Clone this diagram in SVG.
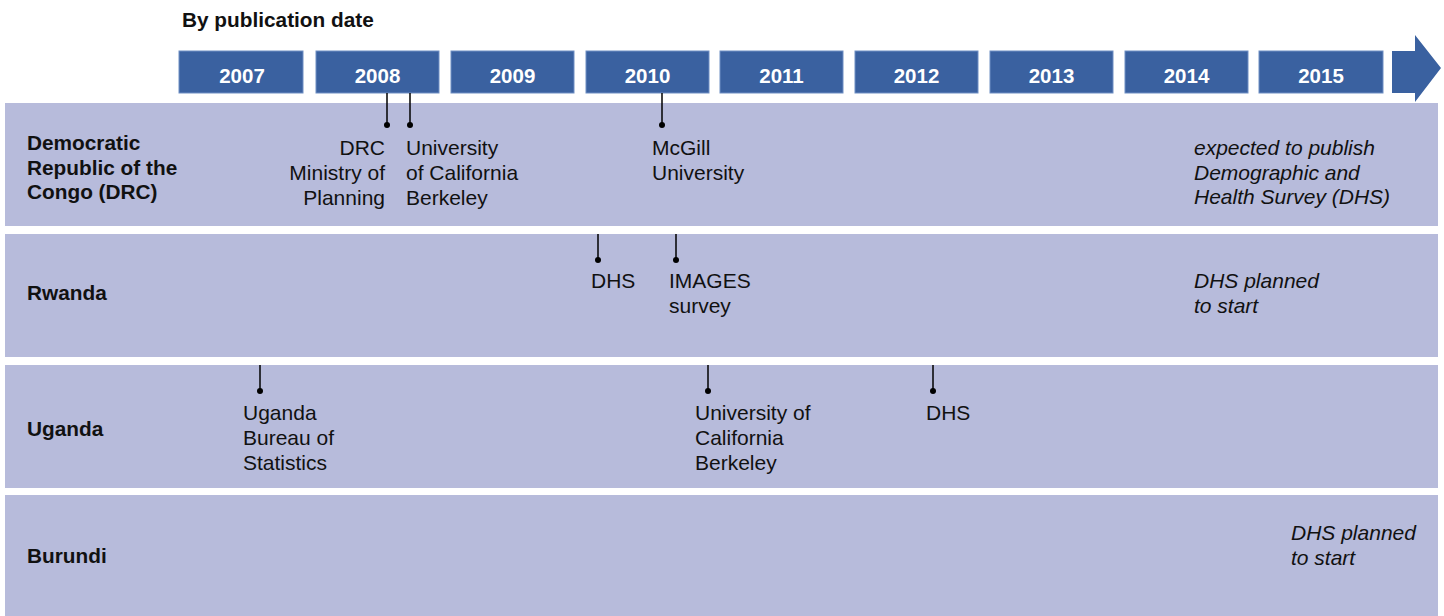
<svg xmlns="http://www.w3.org/2000/svg" width="1444" height="616" viewBox="0 0 1444 616">
  <defs>
    <style>
      .row { fill: #B7BBDB; }
      .yr { fill: #3A61A0; stroke: #6F8FC4; stroke-width: 1; }
      .yrt { font-family: "Liberation Sans", Arial, sans-serif; font-weight: bold; font-size: 20.5px; fill: #FFFFFF; text-anchor: middle; }
      .title { font-family: "Liberation Sans", Arial, sans-serif; font-weight: bold; font-size: 20.8px; fill: #111111; }
      .country { font-family: "Liberation Sans", Arial, sans-serif; font-weight: bold; font-size: 20.8px; fill: #111111; }
      .lbl { font-family: "Liberation Sans", Arial, sans-serif; font-size: 21px; fill: #111111; }
      .note { font-family: "Liberation Sans", Arial, sans-serif; font-style: italic; font-size: 21px; fill: #111111; }
      .tick { stroke: #000000; stroke-width: 1.5; fill: none; }
      .dot { fill: #000000; }
    </style>
  </defs>

  <rect width="1444" height="616" fill="#FFFFFF"/>

  <text class="title" x="182" y="27">By publication date</text>

  <!-- country bands -->
  <g id="band-drc"><rect class="row" x="5" y="103" width="1433" height="123"/>
    <text class="country" x="27" y="150">Democratic</text>
    <text class="country" x="27" y="175">Republic of the</text>
    <text class="country" x="27" y="199">Congo (DRC)</text>
  </g>
  <g id="band-rwanda"><rect class="row" x="5" y="234" width="1433" height="123"/>
    <text class="country" x="27" y="300">Rwanda</text>
  </g>
  <g id="band-uganda"><rect class="row" x="5" y="365" width="1433" height="123"/>
    <text class="country" x="27" y="436">Uganda</text>
  </g>
  <g id="band-burundi"><rect class="row" x="5" y="495" width="1433" height="121"/>
    <text class="country" x="27" y="563">Burundi</text>
  </g>

  <!-- timeline -->
  <g id="timeline">
    <g id="y2007"><rect class="yr" x="179" y="51" width="124" height="42"/><text class="yrt" x="242" y="83">2007</text></g>
    <g id="y2008"><rect class="yr" x="316" y="51" width="123" height="42"/><text class="yrt" x="377.5" y="83">2008</text></g>
    <g id="y2009"><rect class="yr" x="451" y="51" width="123" height="42"/><text class="yrt" x="512.5" y="83">2009</text></g>
    <g id="y2010"><rect class="yr" x="586" y="51" width="123" height="42"/><text class="yrt" x="647.5" y="83">2010</text></g>
    <g id="y2011"><rect class="yr" x="720" y="51" width="123" height="42"/><text class="yrt" x="781.5" y="83">2011</text></g>
    <g id="y2012"><rect class="yr" x="855" y="51" width="123" height="42"/><text class="yrt" x="916.5" y="83">2012</text></g>
    <g id="y2013"><rect class="yr" x="990" y="51" width="123" height="42"/><text class="yrt" x="1051.5" y="83">2013</text></g>
    <g id="y2014"><rect class="yr" x="1125" y="51" width="123" height="42"/><text class="yrt" x="1186.5" y="83">2014</text></g>
    <g id="y2015"><rect class="yr" x="1259" y="51" width="124" height="42"/><text class="yrt" x="1321" y="83">2015</text></g>
    <path id="arrow" d="M1392 51 H1415 V35 L1441 68 L1415 102 V93 H1392 Z" fill="#3A61A0"/>
  </g>

  <!-- connectors -->
  <g id="connectors">
    <line class="tick" x1="387" y1="93" x2="387" y2="125"/><circle class="dot" cx="387" cy="125" r="3"/>
    <line class="tick" x1="410" y1="93" x2="410" y2="125"/><circle class="dot" cx="410" cy="125" r="3"/>
    <line class="tick" x1="662" y1="93" x2="662" y2="125"/><circle class="dot" cx="662" cy="125" r="3"/>
    <line class="tick" x1="598" y1="234" x2="598" y2="260"/><circle class="dot" cx="598" cy="260" r="3"/>
    <line class="tick" x1="676" y1="234" x2="676" y2="260"/><circle class="dot" cx="676" cy="260" r="3"/>
    <line class="tick" x1="260" y1="365" x2="260" y2="391"/><circle class="dot" cx="260" cy="391" r="3"/>
    <line class="tick" x1="708" y1="365" x2="708" y2="391"/><circle class="dot" cx="708" cy="391" r="3"/>
    <line class="tick" x1="933" y1="365" x2="933" y2="391"/><circle class="dot" cx="933" cy="391" r="3"/>
  </g>

  <!-- event labels -->
  <g id="drc-ministry"><text class="lbl" text-anchor="end"><tspan x="385" y="155">DRC</tspan><tspan x="385" y="180">Ministry of</tspan><tspan x="385" y="205">Planning</tspan></text></g>
  <g id="drc-ucb"><text class="lbl"><tspan x="406" y="155">University</tspan><tspan x="406" y="180">of California</tspan><tspan x="406" y="205">Berkeley</tspan></text></g>
  <g id="drc-mcgill"><text class="lbl"><tspan x="652" y="155">McGill</tspan><tspan x="652" y="180">University</tspan></text></g>
  <g id="drc-dhs"><text class="note"><tspan x="1194" y="155">expected to publish</tspan><tspan x="1194" y="180">Demographic and</tspan><tspan x="1194" y="204">Health Survey (DHS)</tspan></text></g>

  <g id="rw-dhs"><text class="lbl" x="591" y="288">DHS</text></g>
  <g id="rw-images"><text class="lbl"><tspan x="669" y="288">IMAGES</tspan><tspan x="669" y="313">survey</tspan></text></g>
  <g id="rw-planned"><text class="note"><tspan x="1194" y="288">DHS planned</tspan><tspan x="1194" y="313">to start</tspan></text></g>

  <g id="ug-ubos"><text class="lbl"><tspan x="243" y="420">Uganda</tspan><tspan x="243" y="445">Bureau of</tspan><tspan x="243" y="470">Statistics</tspan></text></g>
  <g id="ug-ucb"><text class="lbl"><tspan x="695" y="420">University of</tspan><tspan x="695" y="445">California</tspan><tspan x="695" y="470">Berkeley</tspan></text></g>
  <g id="ug-dhs"><text class="lbl" x="926" y="420">DHS</text></g>

  <g id="bu-planned"><text class="note"><tspan x="1291" y="540">DHS planned</tspan><tspan x="1291" y="565">to start</tspan></text></g>
</svg>
